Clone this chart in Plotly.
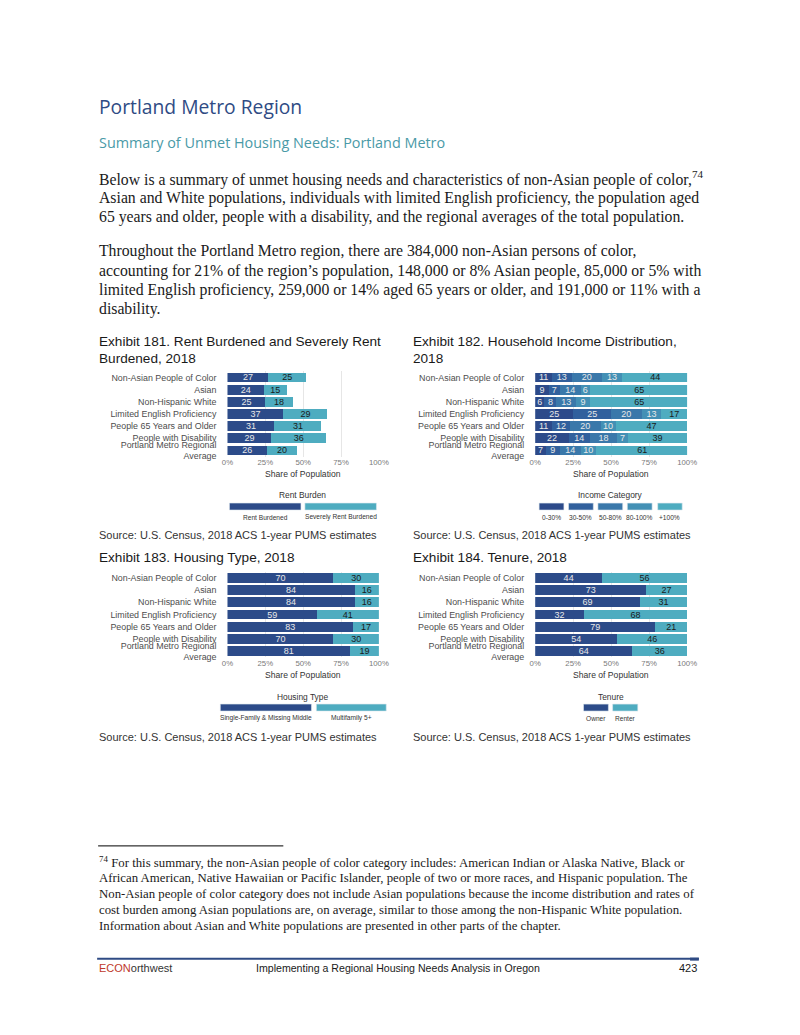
import plotly.graph_objects as go

# ---------------- data ----------------
groups = ["Non-Asian People of Color", "Asian", "Non-Hispanic White",
          "Limited English Proficiency", "People 65 Years and Older",
          "People with Disability", "Portland Metro Regional<br>Average"]

rent_burdened = [27, 24, 25, 37, 31, 29, 26]
severely_rent_burdened = [25, 15, 18, 29, 31, 36, 20]

inc_0_30 = [11, 9, 6, 25, 11, 22, 7]
inc_30_50 = [13, 7, 8, 25, 12, 14, 9]
inc_50_80 = [20, 14, 13, 20, 20, 18, 14]
inc_80_100 = [13, 6, 9, 13, 10, 7, 10]
inc_100_plus = [44, 65, 65, 17, 47, 39, 61]
income_names = ["0-30%", "30-50%", "50-80%", "80-100%", "+100%"]

single_family = [70, 84, 84, 59, 83, 70, 81]
multifamily = [30, 16, 16, 41, 17, 30, 19]

owner = [44, 73, 69, 32, 79, 54, 64]
renter = [56, 27, 31, 68, 21, 46, 36]

tick_vals = [0, 25, 50, 75, 100]
tick_text = ["0%", "25%", "50%", "75%", "100%"]

# ---------------- style ----------------
# Figure fills the browser viewport (fixed-position div); positions in page px
W, H = 800, 1035
DARK = "#2c4b89"
TEAL = "#4eacc0"
INC_COLORS = ["#2c4a8a", "#31609d", "#3a78aa", "#4390b5", "#4eacc0"]
SANS = "Liberation Sans"
SERIF = "Liberation Serif"


def X(px):
    return px / W


def Y(py):
    return 1 - py / H


fig = go.Figure()

panels = {
    1: dict(x0=226, x1=380.5, top=373.2, bot=458.8),
    2: dict(x0=540, x1=695, top=373.2, bot=458.8),
    3: dict(x0=226, x1=380.5, top=574.5, bot=660.5),
    4: dict(x0=540, x1=695, top=574.5, bot=660.5),
}


def add_bar(panel, vals, name, color, txtcolor):
    sfx = "" if panel == 1 else str(panel)
    fig.add_trace(go.Bar(
        y=groups, x=vals, orientation="h", name=name,
        marker=dict(color=color, line=dict(width=0)),
        text=[str(v) for v in vals], textposition="inside",
        insidetextanchor="middle", textangle=0,
        textfont=dict(family=SANS, size=9, color=txtcolor),
        xaxis="x" + sfx, yaxis="y" + sfx, showlegend=False,
        hoverinfo="skip",
    ))


add_bar(1, rent_burdened, "Rent Burdened", DARK, "#e8e8e8")
add_bar(1, severely_rent_burdened, "Severely Rent Burdened", TEAL, "#1a1a1a")

inc_series = [inc_0_30, inc_30_50, inc_50_80, inc_80_100, inc_100_plus]
for i, (vals, nm) in enumerate(zip(inc_series, income_names)):
    add_bar(2, vals, nm, INC_COLORS[i], "#1a1a1a" if i == 4 else "#e8e8e8")

add_bar(3, single_family, "Single-Family & Missing Middle", DARK, "#e8e8e8")
add_bar(3, multifamily, "Multifamily 5+", TEAL, "#1a1a1a")

add_bar(4, owner, "Owner", DARK, "#e8e8e8")
add_bar(4, renter, "Renter", TEAL, "#1a1a1a")

layout_axes = {}
for p, d in panels.items():
    sfx = "" if p == 1 else str(p)
    layout_axes["xaxis" + sfx] = dict(
        domain=[X(d["x0"]), X(d["x1"])], range=[0, 100],
        anchor="y" + sfx, tickvals=tick_vals, ticktext=tick_text,
        showgrid=True, gridcolor="#e6e6e6", gridwidth=0.8,
        zeroline=False, showline=False, ticks="",
        tickfont=dict(family=SANS, size=7.8, color="#7a7a7a"),
        fixedrange=True,
    )
    layout_axes["yaxis" + sfx] = dict(
        domain=[Y(d["bot"]), Y(d["top"])], anchor="x" + sfx,
        categoryorder="array", categoryarray=groups[::-1],
        showgrid=False, zeroline=False, showline=False, ticks="",
        ticklabelstandoff=10,
        tickfont=dict(family=SANS, size=8.9, color="#4d4d4d"),
        fixedrange=True,
    )

ann = []
shapes = []


def text(x, y, s, size, color="#222222", family=SANS, xanchor="left"):
    ann.append(dict(x=X(x), y=Y(y), xref="paper", yref="paper", text=s,
                    showarrow=False, xanchor=xanchor, yanchor="middle",
                    font=dict(family=family, size=size, color=color)))


# headings
text(93, 106.7, "Portland Metro Region", 19.3, "#2f4b84", "Open Sans")
text(93, 143.3, "Summary of Unmet Housing Needs: Portland Metro", 14.4, "#4a9aa7", "Open Sans")

para1 = ["Below is a summary of unmet housing needs and characteristics of non-Asian people of color,<sup>74</sup>",
         "Asian and White populations, individuals with limited English proficiency, the population aged",
         "65 years and older, people with a disability, and the regional averages of the total population."]
para2 = ["Throughout the Portland Metro region, there are 384,000 non-Asian persons of color,",
         "accounting for 21% of the region’s population, 148,000 or 8% Asian people, 85,000 or 5% with",
         "limited English proficiency, 259,000 or 14% aged 65 years or older, and 191,000 or 11% with a",
         "disability."]
for i, s in enumerate(para1):
    text(93, 179.3 + 19.3 * i, s, 15.75, "#1a1a1a", SERIF)
for i, s in enumerate(para2):
    text(93, 252.7 + 19.2 * i, s, 15.75, "#1a1a1a", SERIF)

# exhibit titles
TS = 13.6
text(93, 343, "Exhibit 181. Rent Burdened and Severely Rent", TS, "#1a1a1a")
text(93, 360.5, "Burdened, 2018", TS, "#1a1a1a")
text(413, 343, "Exhibit 182. Household Income Distribution,", TS, "#1a1a1a")
text(413, 360.5, "2018", TS, "#1a1a1a")
text(93, 560, "Exhibit 183. Housing Type, 2018", TS, "#1a1a1a")
text(413, 560, "Exhibit 184. Tenure, 2018", TS, "#1a1a1a")

# axis titles
for p, d in panels.items():
    ty = 476.5 if p in (1, 2) else 678.5
    text((d["x0"] + d["x1"]) / 2, ty, "Share of Population", 8.6, "#333333", SANS, "center")

# sources
src = "Source: U.S. Census, 2018 ACS 1-year PUMS estimates"
text(93, 537.5, src, 11, "#333333")
text(413, 537.5, src, 11, "#333333")
text(93, 741, src, 11, "#333333")
text(413, 741, src, 11, "#333333")


# legends
def legend(title, title_x, title_y, sw_y, lab_y, items):
    text(title_x, title_y, title, 8.4, "#333333", SANS, "center")
    for (x0, x1, col, lab) in items:
        shapes.append(dict(type="rect", xref="paper", yref="paper",
                           x0=X(x0), x1=X(x1), y0=Y(sw_y + 3.5), y1=Y(sw_y - 3.5),
                           fillcolor=col, line=dict(width=0.6, color="#dde8ee")))
        text((x0 + x1) / 2, lab_y, lab, 6.6, "#333333", SANS, "center")


legend("Rent Burden", 303, 497.7, 509, 519.7,
       [(228, 301, DARK, "Rent Burdened"), (305, 378, TEAL, "Severely Rent Burdened")])
inc_x = [(544, 569.3), (574, 599.3), (604, 629.3), (634, 659.3), (665, 690)]
legend("Income Category", 617, 497.7, 509, 520,
       [(a, b, c, n) for (a, b), c, n in zip(inc_x, INC_COLORS, income_names)])
legend("Housing Type", 303, 700, 711, 721.7,
       [(218.7, 311.7, DARK, "Single-Family & Missing Middle"), (316.7, 388, TEAL, "Multifamily 5+")])
legend("Tenure", 617, 700, 711, 721.7,
       [(589.3, 614.7, DARK, "Owner"), (619, 644.7, TEAL, "Renter")])

# footnote
shapes.append(dict(type="line", xref="paper", yref="paper", x0=X(94), x1=X(283),
                   y0=Y(850), y1=Y(850), line=dict(color="#000000", width=1)))
foot = ["<sup>74</sup> For this summary, the non-Asian people of color category includes: American Indian or Alaska Native, Black or",
        "African American, Native Hawaiian or Pacific Islander, people of two or more races, and Hispanic population. The",
        "Non-Asian people of color category does not include Asian populations because the income distribution and rates of",
        "cost burden among Asian populations are, on average, similar to those among the non-Hispanic White population.",
        "Information about Asian and White populations are presented in other parts of the chapter."]
for i, s in enumerate(foot):
    text(93, 866 + 16 * i, s, 12.8, "#1a1a1a", SERIF)

# footer
shapes.append(dict(type="line", xref="paper", yref="paper", x0=X(93), x1=X(707),
                   y0=Y(963.3), y1=Y(963.3), line=dict(color="#2f4b84", width=2)))
shapes.append(dict(type="line", xref="paper", yref="paper", x0=X(698), x1=X(707),
                   y0=Y(963.8), y1=Y(963.8), line=dict(color="#2f4b84", width=3)))
text(93, 972.3, "<span style='color:#c0392b'>ECON</span>orthwest", 11, "#333333")
text(400, 972.3, "Implementing a Regional Housing Needs Analysis in Oregon", 10.6, "#1a1a1a", SANS, "center")
text(707, 972.3, "423", 11, "#1a1a1a", SANS, "right")

fig.update_layout(
    autosize=True, margin=dict(l=0, r=0, t=0, b=0, pad=0),
    paper_bgcolor="white", plot_bgcolor="white",
    barmode="stack", bargap=0.2, showlegend=False,
    uniformtext=dict(minsize=9, mode="show"),
    annotations=ann, shapes=shapes,
    **layout_axes,
)

fig.write_html(
    "out.html",
    config={"displayModeBar": False, "responsive": True},
    default_width="100vw",
    default_height="100vh; position:fixed; left:0; top:0; margin:0",
)
